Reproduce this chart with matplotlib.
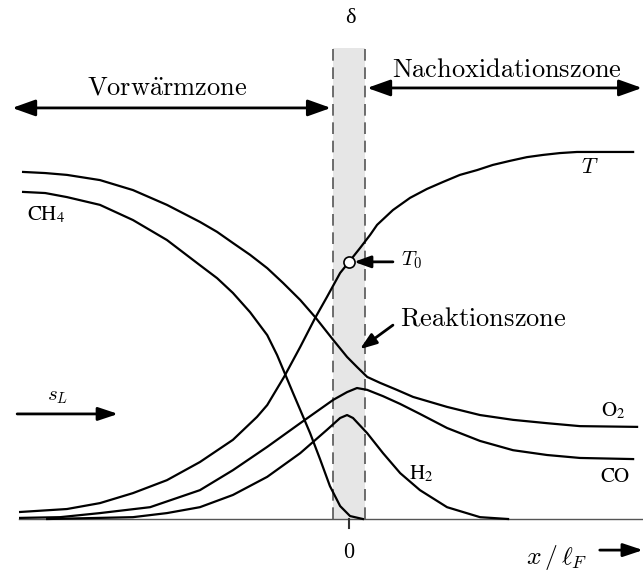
import numpy as np
import matplotlib
matplotlib.use("Agg")
import matplotlib.pyplot as plt

plt.rcParams['mathtext.fontset'] = 'cm'
plt.rcParams['font.family'] = ['Liberation Serif', 'DejaVu Serif']

# profiles across the flame, x in units of the flame thickness, values normalised
T_x = [-9.97, -8.55, -7.55, -6.55, -5.52, -4.52, -3.52, -2.79, -2.48, -1.97, -1.48,
       -1.03, -0.67, -0.27, 0.0, 0.33, 0.64, 0.85, 1.33, 1.85, 2.36, 2.85, 3.36, 3.88,
       4.36, 4.88, 5.39, 5.88, 6.39, 6.91, 8.61]
T_y = [0.019, 0.027, 0.043, 0.070, 0.105, 0.154, 0.214, 0.276, 0.308, 0.384, 0.465,
       0.543, 0.600, 0.665, 0.695, 0.732, 0.768, 0.795, 0.835, 0.868, 0.892, 0.911,
       0.930, 0.943, 0.957, 0.968, 0.978, 0.984, 0.989, 0.992, 0.992]

O2_x = [-9.88, -9.21, -8.55, -7.55, -6.55, -5.52, -4.52, -4.0, -3.52, -3.0, -2.48,
        -2.0, -1.48, -1.03, -0.48, -0.06, 0.24, 0.55, 0.94, 1.45, 1.94, 2.97, 3.97,
        4.97, 6.0, 7.0, 8.73]
O2_y = [0.938, 0.935, 0.930, 0.916, 0.889, 0.849, 0.803, 0.776, 0.746, 0.714, 0.678,
        0.638, 0.592, 0.546, 0.484, 0.438, 0.411, 0.384, 0.368, 0.349, 0.330, 0.303,
        0.281, 0.268, 0.259, 0.251, 0.249]

CH4_x = [-9.88, -9.21, -8.55, -7.55, -6.55, -5.52, -4.52, -4.0, -3.52, -3.0, -2.48,
         -2.18, -1.94, -1.70, -1.48, -1.18, -0.88, -0.58, -0.27, 0.03, 0.42]
CH4_y = [0.884, 0.881, 0.870, 0.849, 0.808, 0.754, 0.686, 0.651, 0.611, 0.559, 0.497,
         0.443, 0.392, 0.341, 0.295, 0.232, 0.162, 0.089, 0.035, 0.008, 0.0]

CO_x = [-9.97, -8.76, -7.55, -6.03, -4.52, -3.52, -2.48, -1.48, -0.48, -0.06, 0.24,
        0.55, 1.03, 1.55, 2.15, 2.97, 3.97, 4.97, 6.0, 7.0, 8.61]
CO_y = [0.003, 0.005, 0.016, 0.032, 0.078, 0.132, 0.195, 0.259, 0.322, 0.343, 0.354,
        0.349, 0.332, 0.311, 0.284, 0.246, 0.211, 0.186, 0.173, 0.165, 0.162]

H2_x = [-9.15, -6.55, -5.52, -4.52, -3.52, -2.48, -1.48, -0.67, -0.27, -0.06, 0.12,
        0.55, 1.03, 1.55, 2.15, 2.97, 3.97, 4.82]
H2_y = [0.0, 0.005, 0.016, 0.032, 0.065, 0.114, 0.178, 0.241, 0.273, 0.281, 0.273,
        0.232, 0.178, 0.124, 0.078, 0.032, 0.005, 0.0]

DELTA = 0.48       # half width of the reaction zone
T0_X = 0.0         # ignition point on the T profile

fig = plt.figure(figsize=(6.43, 5.71), dpi=100)
ax = fig.add_axes([0, 0, 1, 1])
ax.set_xlim(-10.58, 8.91)
ax.set_ylim(-0.1405, 1.4027)
ax.axis('off')

def arrow(x0, y0, x1, y1, style='-|>', hl=0.7, hw=0.25):
    ax.annotate('', xy=(x1, y1), xytext=(x0, y0),
                arrowprops=dict(arrowstyle=f'{style},head_length={hl},head_width={hw}',
                                mutation_scale=20, lw=2, color='black',
                                shrinkA=0, shrinkB=0))

# reaction zone
top = 1.273
ax.fill_between([-DELTA, DELTA], 0, top, color='#e6e6e6', lw=0, zorder=0)
for xd in (-DELTA, DELTA):
    ax.plot([xd, xd], [0, top], color='#555555', lw=1.2, ls=(0, (7, 4)), zorder=1)

# x axis
ax.plot([-10.0, 8.91], [0, 0], color='#555555', lw=1.0, zorder=2)
ax.plot([0, 0], [0, -0.024], color='#333333', lw=1.5)
ax.text(0, -0.094, '$0$', ha='center', va='center', fontsize=16)
ax.text(6.3, -0.103, r'$x\,/\,\ell_F$', ha='center', va='center', fontsize=18.5)
arrow(7.6, -0.084, 8.91, -0.084, hl=0.6, hw=0.2)

for xs, ys in [(T_x, T_y), (O2_x, O2_y), (CH4_x, CH4_y), (CO_x, CO_y), (H2_x, H2_y)]:
    ax.plot(xs, ys, color='black', lw=1.6, solid_joinstyle='round', zorder=3)

# T0 marker
t0_y = T_y[T_x.index(T0_X)]
ax.plot([T0_X], [t0_y], 'o', ms=8, mfc='white', mec='black', mew=1.2, zorder=5)
arrow(1.33, t0_y, 0.15, t0_y, hl=0.5, hw=0.18)
ax.text(1.58, 0.700, '$T_0$', ha='left', va='center', fontsize=15)

ax.text(1.55, 0.540, r'$\mathrm{Reaktionszone}$', ha='left', va='center', fontsize=19)
arrow(1.33, 0.524, 0.33, 0.459, hl=0.5, hw=0.18)

# species labels
ax.text(-9.76, 0.822, r'$\mathrm{CH}_4$', ha='left', va='center', fontsize=15,
        math_fontfamily='stix')
ax.text(8.0, 0.292, r'$\mathrm{O}_2$', ha='center', va='center', fontsize=15,
        math_fontfamily='stix')
ax.text(8.06, 0.111, r'$\mathrm{CO}$', ha='center', va='center', fontsize=15,
        math_fontfamily='stix')
ax.text(2.18, 0.122, r'$\mathrm{H}_2$', ha='center', va='center', fontsize=15,
        math_fontfamily='stix')
ax.text(7.30, 0.946, '$T$', ha='center', va='center', fontsize=16)

# inflow velocity
arrow(-10.06, 0.284, -7.0, 0.284, hl=0.6, hw=0.2)
ax.text(-8.85, 0.330, '$s_L$', ha='center', va='center', fontsize=15)

# zones above the plot
ax.text(0.03, 1.354, 'δ', ha='center', va='center', fontsize=16)
arrow(-10.21, 1.111, -0.55, 1.111, style='<|-|>')
ax.text(-5.52, 1.162, r'$\mathrm{Vorw\ddot{a}rmzone}$', ha='center', va='center',
        fontsize=19)
arrow(0.55, 1.165, 8.88, 1.165, style='<|-|>')
ax.text(4.79, 1.212, r'$\mathrm{Nachoxidationszone}$', ha='center', va='center',
        fontsize=19)

fig.savefig('out.png', dpi=100)
